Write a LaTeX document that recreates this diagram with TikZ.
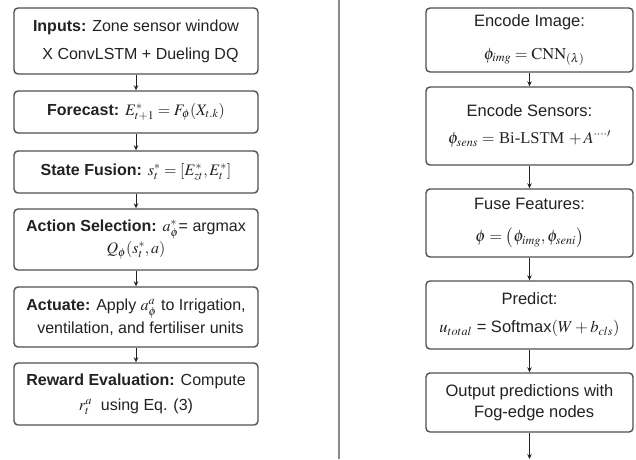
\documentclass[tikz,border=0pt]{standalone}
\usepackage{mathptmx}
\usepackage[no-math]{fontspec}
\setmainfont{Liberation Sans}
\newfontfamily\timesfont{Liberation Serif}
\usetikzlibrary{arrows.meta}
\definecolor{edge}{HTML}{505050}
\definecolor{ink}{HTML}{222222}
\definecolor{divider}{HTML}{8A8A8A}
\tikzset{
  flowbox/.style={draw=edge, line width=1.4pt, rounded corners=4pt, fill=white,
    align=center, text=ink, inner sep=0pt, font=\fontsize{16}{20}\selectfont},
  leftbox/.style={flowbox, minimum width=244pt},
  rightbox/.style={flowbox, minimum width=207pt, font=\fontsize{16.5}{20}\selectfont},
  flowarrow/.style={draw=ink, line width=0.9pt, -{Stealth[length=5pt,width=4.5pt]}},
}
\begin{document}
\begin{tikzpicture}[x=1pt,y=-1pt]
\useasboundingbox (0,0) rectangle (636,459);

% left column: control loop
\node[leftbox, minimum height=66pt] (in) at (136,41)
  {\textbf{Inputs:} Zone sensor window\\[8pt] \ \ X ConvLSTM + Dueling DQ};
\node[leftbox, minimum height=42pt] (fc) at (136,112)
  {\textbf{Forecast:} $E^{*}_{t+1} = F_{\phi}(X_{t.k})$};
\node[leftbox, minimum height=42pt] (sf) at (136,172)
  {\textbf{State Fusion:} $s^{*}_{t} = [E^{*}_{zt}, E^{*}_{t}]$};
\node[leftbox, minimum height=61pt] (as) at (136,239.5)
  {\textbf{Action Selection:} $a^{*}_{\phi}$= argmax\\[2pt] $Q_{\phi}(s^{*}_{t}, a)$};
\node[leftbox, minimum height=60pt] (ac) at (136,317)
  {\textbf{Actuate:} Apply $a^{a}_{\phi}$ to Irrigation,\\[3pt] \ \ ventilation, and fertiliser units};
\node[leftbox, minimum height=62pt] (rw) at (136,394)
  {\textbf{Reward Evaluation:} Compute\\[5pt] $r^{a}_{t}$\ \ using Eq. (3)};

\draw[flowarrow] (in) -- (fc);
\draw[flowarrow] (fc) -- (sf);
\draw[flowarrow] (sf) -- (as);
\draw[flowarrow] (as) -- (ac);
\draw[flowarrow] (ac) -- (rw);

% separator between the two columns
\coordinate (sepTop) at (339,0);
\coordinate (sepBot) at (339,459);
\draw[divider, line width=2pt] (sepTop) -- (sepBot);

% right column: prediction pipeline
\node[rightbox, minimum height=64pt] (ei) at (529.5,40)
  {Encode Image:\\[13pt] \ \ $\phi_{img} = \mathrm{CNN}_{(\lambda)}$};
\node[rightbox, minimum height=78pt] (es) at (529.5,126)
  {Encode Sensors:\\[7pt] $\phi_{sens} =$ {\timesfont Bi-LSTM} $+\,A^{\cdots\cdot\prime}$};
\node[rightbox, minimum height=68pt] (ff) at (529.5,223)
  {Fuse Features:\\[12pt] $\phi = \bigl(\phi_{img}, \phi_{seni}\bigr)$};
\node[rightbox, minimum height=68pt] (pr) at (529.5,315)
  {Predict:\\[8pt] $u_{total}$ = Softmax$(W + b_{cls})$};
\node[rightbox, minimum height=59pt] (op) at (529.5,402.5)
  {Output predictions with\\[1pt] \ \ Fog-edge nodes};
\coordinate (outEnd) at (529.5,459);

\draw[flowarrow] (ei) -- (es);
\draw[flowarrow] (es) -- (ff);
\draw[flowarrow] (ff) -- (pr);
\draw[flowarrow] (pr) -- (op);
\draw[flowarrow] (op) -- (outEnd);
\end{tikzpicture}
\end{document}
